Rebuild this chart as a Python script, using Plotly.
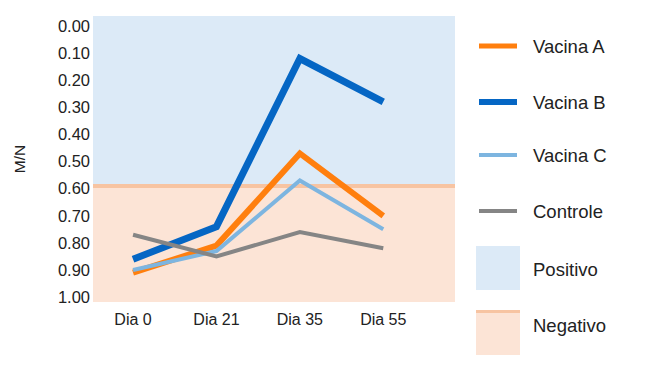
import plotly.graph_objects as go

days = ["Dia 0", "Dia 21", "Dia 35", "Dia 55"]
vacina_a = [0.91, 0.81, 0.47, 0.70]
vacina_b = [0.86, 0.74, 0.12, 0.28]
vacina_c = [0.90, 0.83, 0.57, 0.75]
controle = [0.77, 0.85, 0.76, 0.82]
cutoff = 0.59
y_ticks = [0.0, 0.1, 0.2, 0.3, 0.4, 0.5, 0.6, 0.7, 0.8, 0.9, 1.0]

W, H = 650, 366
OFF = 8  # browser body margin
PL, PR, PT, PB = 93, 455, 16, 302  # plot area on page
L = PL - OFF
T = PT - OFF
R = W - (PR - OFF)
B = H - (PB - OFF)
PW, PH = PR - PL, PB - PT

def px(x):
    return (x - PL) / PW

def py(y):
    return (PB - y) / PH

series = [
    ("Vacina A", vacina_a, "#FF7F0E", 6, 5),
    ("Vacina B", vacina_b, "#0566C4", 7, 6),
    ("Vacina C", vacina_c, "#7DB5E0", 4, 4),
    ("Controle", controle, "#858585", 4, 4),
]

fig = go.Figure()
for name, vals, col, w, lw in series:
    fig.add_trace(go.Scatter(x=days, y=vals, mode="lines", name=name,
                             line=dict(color=col, width=w), showlegend=False,
                             hoverinfo="skip"))

shapes = [
    dict(type="rect", xref="paper", yref="y", x0=0, x1=1, y0=-0.037, y1=cutoff,
         fillcolor="#DCEAF7", line_width=0, layer="below"),
    dict(type="rect", xref="paper", yref="y", x0=0, x1=1, y0=cutoff, y1=1.018,
         fillcolor="#FCE4D6", line_width=0, layer="below"),
    dict(type="line", xref="paper", yref="y", x0=0, x1=1, y0=cutoff, y1=cutoff,
         line=dict(color="#F7C4A2", width=4), layer="below"),
]
annotations = []
LEG_FONT = dict(size=18.5, color="#222")
leg_y = [46, 102, 155, 211]
for (name, vals, col, w, lw), yy in zip(series, leg_y):
    shapes.append(dict(type="line", xref="paper", yref="paper",
                       x0=px(479), x1=px(517), y0=py(yy), y1=py(yy),
                       line=dict(color=col, width=lw)))
    annotations.append(dict(xref="paper", yref="paper", x=px(531), y=py(yy),
                            text=name, showarrow=False, xanchor="left",
                            yanchor="middle", font=LEG_FONT))
# Positivo box
shapes.append(dict(type="rect", xref="paper", yref="paper", x0=px(476), x1=px(520),
                   y0=py(290), y1=py(246), fillcolor="#DCEAF7", line_width=0))
annotations.append(dict(xref="paper", yref="paper", x=px(531), y=py(269),
                        text="Positivo", showarrow=False, xanchor="left",
                        yanchor="middle", font=LEG_FONT))
# Negativo box
shapes.append(dict(type="rect", xref="paper", yref="paper", x0=px(476), x1=px(520),
                   y0=py(355), y1=py(310), fillcolor="#FCE4D6", line_width=0))
shapes.append(dict(type="line", xref="paper", yref="paper", x0=px(476), x1=px(520),
                   y0=py(311.5), y1=py(311.5), line=dict(color="#F7C4A2", width=3)))
annotations.append(dict(xref="paper", yref="paper", x=px(531), y=py(325),
                        text="Negativo", showarrow=False, xanchor="left",
                        yanchor="middle", font=LEG_FONT))

fig.update_layout(
    width=W, height=H,
    margin=dict(l=L, r=R, t=T, b=B),
    paper_bgcolor="white", plot_bgcolor="white",
    font=dict(family="Arial, Liberation Sans, sans-serif", size=16, color="#222"),
    shapes=shapes, annotations=annotations,
    showlegend=False,
    xaxis=dict(range=[-0.48, 3.86], showgrid=False, zeroline=False, showline=False,
               ticks="", tickfont=dict(size=16, color="#222"), ticklabelstandoff=6),
    yaxis=dict(range=[1.018, -0.037], tickvals=y_ticks, tickformat=".2f",
               showgrid=False, zeroline=False, showline=False, ticks="",
               tickfont=dict(size=16.5, color="#222"), ticklabelstandoff=2,
               title=dict(text="M/N", font=dict(size=15.5, color="#222"), standoff=28)),
)

fig.write_html("out.html")
